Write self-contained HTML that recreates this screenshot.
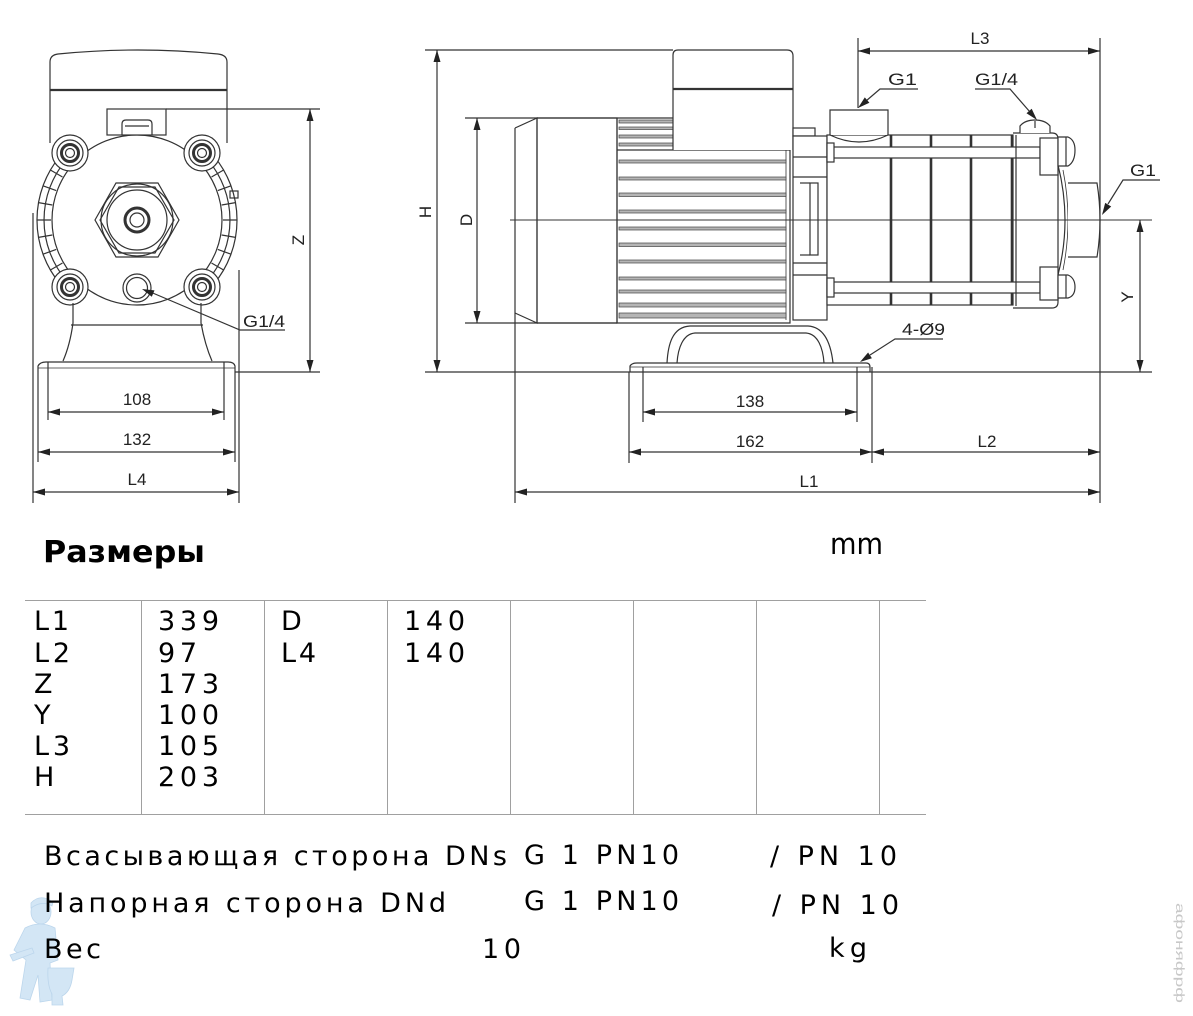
<!DOCTYPE html>
<html><head><meta charset="utf-8"><style>
html,body{margin:0;padding:0;background:#fff;}
svg{display:block;}
</style></head><body>
<svg width="1193" height="1016" viewBox="0 0 1193 1016" xmlns="http://www.w3.org/2000/svg" font-family="'Liberation Sans', Arial, sans-serif">
<rect width="1193" height="1016" fill="#fff"/>

<!-- watermark plumber -->
<g fill="#d3e6f5" stroke="#bcd6ec" stroke-width="0.8">
  <ellipse cx="41" cy="912" rx="10" ry="12"/>
  <path d="M31,903 Q40,893 53,902 L52,906 Q42,900 31,908 Z"/>
  <path d="M25,928 Q40,920 55,928 L58,960 L50,963 L52,1000 L40,1002 L38,975 L30,1000 L20,998 L26,960 L14,950 Z"/>
  <path d="M10,955 L32,948 L34,953 L13,961 Z"/>
  <path d="M48,968 L74,968 L72,980 Q70,992 62,996 L63,1005 L52,1005 L52,994 Q47,985 48,968 Z"/>
</g>
<!-- watermark right -->
<text transform="translate(1176,903) rotate(90)" font-size="12" fill="#c8c8c8" textLength="100" lengthAdjust="spacingAndGlyphs">афоняфрф</text>

<g fill="none" stroke="#333" stroke-width="1.2">
<!-- ================= LEFT VIEW ================= -->
  <path d="M50,143 L50,62 Q50,55 58,54 Q138,46 218,54 Q227,55 227,62 L227,143" fill="#fff"/>
  <line x1="50" y1="90" x2="227" y2="90" stroke-width="2.2"/>
  <path d="M60.4,155.7 A100,100 0 0 0 60.4,284.3" />
  <path d="M65.8,160.2 A93,93 0 0 0 65.8,279.8" />
  <path d="M213.6,155.7 A100,100 0 0 1 213.6,284.3" />
  <path d="M208.2,160.2 A93,93 0 0 1 208.2,279.8" />
  <path d="M56.2,249.4 L43,254.2 M52.3,235 L38.5,237.4 M51,220 L37,220 M52.3,205 L38.5,202.6 M56.2,190.6 L43,185.8 M62.5,263 L50.4,270 M62.5,177 L50.4,170"/>
  <path d="M217.8,249.4 L231,254.2 M221.7,235 L235.5,237.4 M223,220 L237,220 M221.7,205 L235.5,202.6 M217.8,190.6 L231,185.8 M211.5,263 L223.6,270 M211.5,177 L223.6,170"/>
  <rect x="230" y="191" width="8" height="7"/>
  <circle cx="137" cy="220" r="85" fill="#fff"/>
  <rect x="107" y="109" width="59" height="26" fill="#fff"/>
  <path d="M122,135 L122,124 Q122,120 126,120 L148,120 Q152,120 152,124 L152,135"/>
  <line x1="125" y1="126" x2="149" y2="126"/>
  <g fill="#fff">
    <circle cx="70" cy="153" r="18"/><circle cx="202" cy="153" r="18"/>
    <circle cx="70" cy="287" r="18"/><circle cx="202" cy="287" r="18"/>
  </g>
  <g>
    <circle cx="70" cy="153" r="13"/><circle cx="70" cy="153" r="8.5" stroke-width="3"/><circle cx="70" cy="153" r="4.5"/>
    <circle cx="202" cy="153" r="13"/><circle cx="202" cy="153" r="8.5" stroke-width="3"/><circle cx="202" cy="153" r="4.5"/>
    <circle cx="70" cy="287" r="13"/><circle cx="70" cy="287" r="8.5" stroke-width="3"/><circle cx="70" cy="287" r="4.5"/>
    <circle cx="202" cy="287" r="13"/><circle cx="202" cy="287" r="8.5" stroke-width="3"/><circle cx="202" cy="287" r="4.5"/>
  </g>
  <polygon points="95,220 116,183 158,183 179,220 158,257 116,257" fill="#fff"/>
  <polygon points="100,220 119,187 155,187 174,220 155,253 119,253"/>
  <circle cx="137" cy="220" r="36"/>
  <circle cx="137" cy="220" r="30"/>
  <circle cx="137" cy="220" r="12" stroke-width="3"/>
  <circle cx="137" cy="220" r="7"/>
  <circle cx="137" cy="288" r="14" fill="#fff"/>
  <circle cx="137" cy="288" r="10.5"/>
  <path d="M73,303 L73,323 Q70,345 63,361"/>
  <path d="M201,303 L201,323 Q205,345 212,361"/>
  <line x1="71" y1="325" x2="203" y2="325"/>
  <path d="M38,372 L38,366 Q40,362 46,362 L228,362 Q234,362 235,366 L235,372"/>
  <line x1="38" y1="368" x2="235" y2="368" stroke-width="0.8"/>
  <line x1="166" y1="109" x2="320" y2="109"/>
  <line x1="235" y1="372" x2="320" y2="372"/>
  <line x1="38" y1="372" x2="38" y2="462"/>
  <line x1="310" y1="109" x2="310" y2="372"/>
  <line x1="33" y1="213" x2="33" y2="503"/>
  <line x1="239" y1="270" x2="239" y2="503"/>
  <line x1="48" y1="362" x2="48" y2="420"/>
  <line x1="224" y1="362" x2="224" y2="420"/>
  <line x1="235" y1="372" x2="235" y2="462"/>
  <line x1="48" y1="412" x2="224" y2="412"/>
  <line x1="38" y1="452" x2="235" y2="452"/>
  <line x1="33" y1="492" x2="239" y2="492"/>
  <polyline points="148,291 240,330 285,330"/>

<!-- ================= RIGHT VIEW ================= -->
  <line x1="425" y1="50" x2="673" y2="50"/>
  <line x1="437" y1="50" x2="437" y2="372"/>
  <line x1="465" y1="118" x2="617" y2="118"/>
  <line x1="465" y1="323" x2="617" y2="323"/>
  <line x1="477" y1="118" x2="477" y2="323"/>
  <line x1="425" y1="372" x2="1152" y2="372"/>
  <path d="M515,128 L537,118 L537,323 L515,313"/>
  <line x1="515" y1="128" x2="515" y2="503"/>
  <rect x="537" y="118" width="80" height="205"/>
  <path d="M617,118 L673,118 M617,118 L617,323 L790,323 L790,148"/>
  <line x1="786" y1="150" x2="786" y2="320" stroke-width="0.8"/>
  <g fill="#b5b5b5" stroke="#444" stroke-width="0.7">
    <rect x="619" y="120" width="54" height="3"/>
    <rect x="619" y="127" width="54" height="2.5"/>
    <rect x="619" y="135" width="54" height="3"/>
    <rect x="619" y="143" width="54" height="3"/>
    <rect x="619" y="160" width="167" height="3"/>
    <rect x="619" y="177" width="167" height="3"/>
    <rect x="619" y="193" width="167" height="3.5"/>
    <rect x="619" y="210" width="167" height="3"/>
    <rect x="619" y="227" width="167" height="3"/>
    <rect x="619" y="243" width="167" height="3.5"/>
    <rect x="619" y="260" width="167" height="3"/>
    <rect x="619" y="277" width="167" height="3"/>
    <rect x="619" y="290" width="167" height="3"/>
    <rect x="619" y="303" width="167" height="4"/>
    <rect x="619" y="313" width="167" height="5"/>
  </g>
  <line x1="617" y1="150" x2="790" y2="150"/>
  <path d="M673,150 L673,55 Q673,50 678,50 L787,50 Q793,50 793,56 L793,150" fill="#fff"/>
  <line x1="673" y1="89" x2="793" y2="89" stroke-width="2.2"/>
  <line x1="510" y1="220" x2="1152" y2="220" stroke-width="1"/>
  <rect x="793" y="128" width="22" height="8" fill="#fff"/>
  <rect x="793" y="136" width="34" height="184" fill="#fff"/>
  <line x1="793" y1="157" x2="827" y2="157"/>
  <line x1="793" y1="177" x2="827" y2="177"/>
  <line x1="793" y1="263" x2="827" y2="263"/>
  <line x1="793" y1="275" x2="827" y2="275"/>
  <rect x="810" y="183" width="8" height="72"/>
  <line x1="800" y1="183" x2="810" y2="183"/>
  <line x1="800" y1="255" x2="810" y2="255"/>
  <line x1="793" y1="220" x2="827" y2="220" stroke-width="1"/>
  <path d="M667,363 C668,345 672,327 690,326 L808,326 C825,327 831,345 833,363" fill="#fff"/>
  <path d="M677,363 C678,348 683,334 695,333 L806,333 C818,334 823,348 824,363"/>
  <path d="M630,372 L630,366 Q632,363 637,363 L866,363 Q870,363 870,367 L870,372"/>
  <line x1="630" y1="367" x2="870" y2="367" stroke-width="0.8"/>
  <rect x="827" y="135" width="186" height="170" fill="#fff"/>
  <line x1="827" y1="220" x2="1013" y2="220" stroke-width="1"/>
  <g stroke-width="2.6">
    <line x1="891" y1="135" x2="891" y2="305"/>
    <line x1="931" y1="135" x2="931" y2="305"/>
    <line x1="971" y1="135" x2="971" y2="305"/>
    <line x1="1012" y1="135" x2="1012" y2="305"/>
  </g>
  <rect x="833" y="147" width="207" height="11" fill="#fff"/>
  <rect x="833" y="282" width="207" height="11" fill="#fff"/>
  <rect x="827" y="143" width="7" height="19" fill="#fff"/>
  <rect x="827" y="278" width="7" height="19" fill="#fff"/>
  <path d="M830,135 L830,110 L888,110 L888,135" fill="#fff"/>
  <path d="M830,135 Q859,149 888,135"/>
  <path d="M1013,133 L1052,133 Q1058,133 1058,139 L1058,302 Q1058,308 1052,308 L1013,308"/>
  <line x1="1016" y1="135" x2="1016" y2="306"/>
  <path d="M1058,165 Q1072,220 1058,275"/>
  <path d="M1063,170 Q1073,220 1063,270" stroke-width="0.8"/>
  <rect x="1040" y="138" width="18" height="37" fill="#fff"/>
  <path d="M1058,137 L1068,137 Q1075,140 1075,150 Q1075,162 1068,166 L1058,166 Z" fill="#fff"/>
  <line x1="1066" y1="137" x2="1066" y2="166"/>
  <rect x="1040" y="267" width="18" height="33" fill="#fff"/>
  <path d="M1058,275 L1068,275 Q1075,278 1075,287 Q1075,296 1068,298 L1058,298 Z" fill="#fff"/>
  <line x1="1066" y1="275" x2="1066" y2="298"/>
  <path d="M1020,133 L1020,126 Q1025,120 1035,120 Q1045,120 1050,126 L1050,133" fill="#fff"/>
  <line x1="1035" y1="121" x2="1035" y2="128"/>
  <path d="M1068,183 L1097,183 Q1103,220 1097,257 L1068,257" fill="#fff"/>
  <line x1="1068" y1="220" x2="1100" y2="220" stroke-width="1"/>
  <line x1="1100" y1="38" x2="1100" y2="503"/>
  <line x1="858" y1="38" x2="858" y2="108"/>
  <line x1="858" y1="51" x2="1100" y2="51"/>
  <line x1="643" y1="367" x2="643" y2="422"/>
  <line x1="857" y1="367" x2="857" y2="422"/>
  <line x1="643" y1="412" x2="857" y2="412"/>
  <line x1="629" y1="372" x2="629" y2="463"/>
  <line x1="872" y1="367" x2="872" y2="463"/>
  <line x1="629" y1="452" x2="1100" y2="452"/>
  <line x1="515" y1="492" x2="1100" y2="492"/>
  <line x1="1140" y1="220" x2="1140" y2="372"/>
  <polyline points="866,101 880,89 918,89"/>
  <polyline points="975,89 1010,89 1030,112"/>
  <polyline points="1108,204 1123,180 1160,180"/>
  <polyline points="870,355 895,339 943,339"/>
</g>

<g fill="#222">
  <polygon points="48,412 60,408.5 60,415.5"/><polygon points="224,412 212,408.5 212,415.5"/>
  <polygon points="38,452 50,448.5 50,455.5"/><polygon points="235,452 223,448.5 223,455.5"/>
  <polygon points="33,492 45,488.5 45,495.5"/><polygon points="239,492 227,488.5 227,495.5"/>
  <polygon points="310,109 306.5,121 313.5,121"/><polygon points="310,372 306.5,360 313.5,360"/>
  <polygon points="142,289 154.5,290.4 151.8,296.8"/>
  <polygon points="437,50 433.5,62 440.5,62"/><polygon points="437,372 433.5,360 440.5,360"/>
  <polygon points="477,118 473.5,130 480.5,130"/><polygon points="477,323 473.5,311 480.5,311"/>
  <polygon points="858,51 870,47.5 870,54.5"/><polygon points="1100,51 1088,47.5 1088,54.5"/>
  <polygon points="643,412 655,408.5 655,415.5"/><polygon points="857,412 845,408.5 845,415.5"/>
  <polygon points="629,452 641,448.5 641,455.5"/><polygon points="872,452 860,448.5 860,455.5"/>
  <polygon points="872,452 884,448.5 884,455.5"/><polygon points="1100,452 1088,448.5 1088,455.5"/>
  <polygon points="515,492 527,488.5 527,495.5"/><polygon points="1100,492 1088,488.5 1088,495.5"/>
  <polygon points="1140,220 1136.5,232 1143.5,232"/><polygon points="1140,372 1136.5,360 1143.5,360"/>
  <polygon points="858,108 869.4,102.8 864.8,97.4"/>
  <polygon points="1037,120 1026.5,113.3 1031.7,108.7"/>
  <polygon points="1102,215 1111.2,206.5 1105.2,202.9"/>
  <polygon points="860,362 871.9,358.3 868.1,352.5"/>
</g>

<g font-size="17" fill="#222">
  <text x="137" y="405" text-anchor="middle">108</text>
  <text x="137" y="445" text-anchor="middle">132</text>
  <text x="137" y="485" text-anchor="middle">L4</text>
  <text x="243" y="327" textLength="42" lengthAdjust="spacingAndGlyphs">G1/4</text>
  <text transform="translate(304,240) rotate(-90)" text-anchor="middle">Z</text>
  <text transform="translate(431,212) rotate(-90)" text-anchor="middle">H</text>
  <text transform="translate(472,220) rotate(-90)" text-anchor="middle">D</text>
  <text transform="translate(1133,297) rotate(-90)" text-anchor="middle">Y</text>
  <text x="750" y="407" text-anchor="middle">138</text>
  <text x="750" y="447" text-anchor="middle">162</text>
  <text x="987" y="447" text-anchor="middle">L2</text>
  <text x="809" y="487" text-anchor="middle">L1</text>
  <text x="980" y="44" text-anchor="middle">L3</text>
  <text x="888" y="85" textLength="29" lengthAdjust="spacingAndGlyphs">G1</text>
  <text x="975" y="85" textLength="43" lengthAdjust="spacingAndGlyphs">G1/4</text>
  <text x="1130" y="176" textLength="26" lengthAdjust="spacingAndGlyphs">G1</text>
  <text x="902" y="335" textLength="43" lengthAdjust="spacingAndGlyphs">4-Ø9</text>
</g>

<text x="43" y="562" font-family="'DejaVu Sans', sans-serif" font-size="30" font-weight="bold" fill="#000" textLength="162" lengthAdjust="spacingAndGlyphs">Размеры</text>
<text x="830" y="554" font-family="'DejaVu Sans', sans-serif" font-size="29" fill="#000" textLength="53" lengthAdjust="spacingAndGlyphs">mm</text>

<g stroke="#a0a0a0" stroke-width="1">
  <line x1="25" y1="600.5" x2="926" y2="600.5"/>
  <line x1="25" y1="814.5" x2="926" y2="814.5"/>
  <line x1="141.5" y1="600" x2="141.5" y2="814"/>
  <line x1="264.5" y1="600" x2="264.5" y2="814"/>
  <line x1="387.5" y1="600" x2="387.5" y2="814"/>
  <line x1="510.5" y1="600" x2="510.5" y2="814"/>
  <line x1="633.5" y1="600" x2="633.5" y2="814"/>
  <line x1="756.5" y1="600" x2="756.5" y2="814"/>
  <line x1="879.5" y1="600" x2="879.5" y2="814"/>
</g>
<g font-family="'DejaVu Sans', sans-serif" font-size="27" fill="#000">
  <text x="34" y="630" textLength="35" lengthAdjust="spacing">L1</text>
  <text x="34" y="662" textLength="36" lengthAdjust="spacing">L2</text>
  <text x="34" y="693">Z</text>
  <text x="34" y="724">Y</text>
  <text x="34" y="755" textLength="36" lengthAdjust="spacing">L3</text>
  <text x="34" y="786">H</text>
  <text x="158" y="630" textLength="61" lengthAdjust="spacing">339</text>
  <text x="158" y="662" textLength="39" lengthAdjust="spacing">97</text>
  <text x="158" y="693" textLength="61" lengthAdjust="spacing">173</text>
  <text x="158" y="724" textLength="61" lengthAdjust="spacing">100</text>
  <text x="158" y="755" textLength="61" lengthAdjust="spacing">105</text>
  <text x="158" y="786" textLength="61" lengthAdjust="spacing">203</text>
  <text x="281" y="630">D</text>
  <text x="281" y="662" textLength="35" lengthAdjust="spacing">L4</text>
  <text x="404" y="630" textLength="61" lengthAdjust="spacing">140</text>
  <text x="404" y="662" textLength="61" lengthAdjust="spacing">140</text>
</g>

<g font-family="'DejaVu Sans', sans-serif" font-size="27" fill="#000">
  <text x="44" y="865" textLength="463" lengthAdjust="spacing">Всасывающая сторона DNs</text>
  <text x="524" y="864" textLength="155" lengthAdjust="spacing">G 1 PN10</text>
  <text x="770" y="865" textLength="127" lengthAdjust="spacing">/ PN 10</text>
  <text x="44" y="912" textLength="402" lengthAdjust="spacing">Напорная сторона DNd</text>
  <text x="524" y="910" textLength="155" lengthAdjust="spacing">G 1 PN10</text>
  <text x="772" y="914" textLength="127" lengthAdjust="spacing">/ PN 10</text>
  <text x="44" y="958" textLength="57" lengthAdjust="spacing">Вес</text>
  <text x="482" y="958" textLength="39" lengthAdjust="spacing">10</text>
  <text x="829" y="957" textLength="38" lengthAdjust="spacing">kg</text>
</g>
</svg>
</body></html>
